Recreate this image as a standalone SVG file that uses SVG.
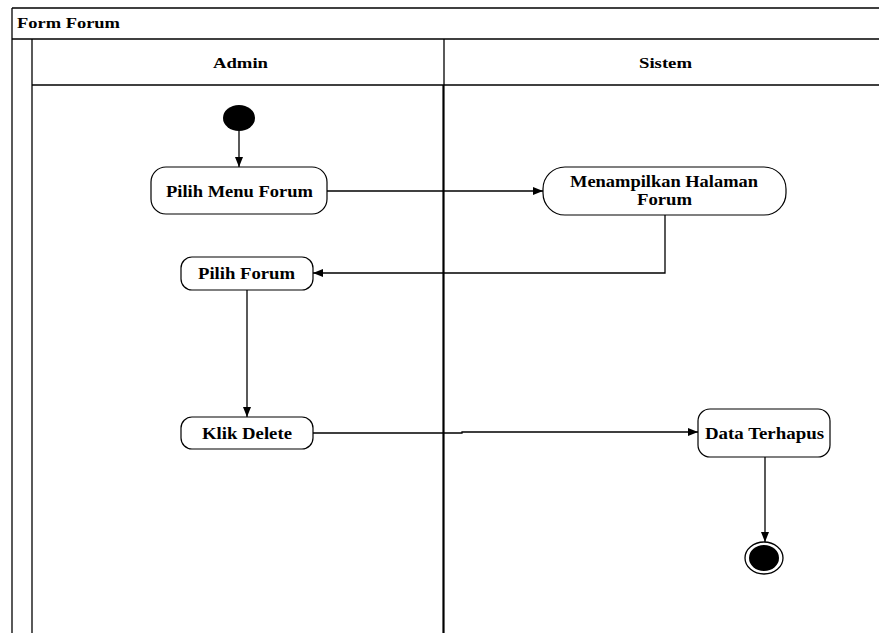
<svg xmlns="http://www.w3.org/2000/svg" width="879" height="633" viewBox="0 0 879 633">
<defs>
<style>
.frame{fill:none;stroke:#000;stroke-width:1.3}
.div{fill:none;stroke:#000;stroke-width:2.2}
.node{fill:#fff;stroke:#000;stroke-width:1.2}
.conn{fill:none;stroke:#000;stroke-width:1.3}
.t{font-family:"Liberation Serif","Times New Roman",serif;font-weight:bold;fill:#000}
.nt{font-size:16.5px}
.ht{font-size:14px}
</style>
<marker id="arr" viewBox="0 0 10 10" refX="10" refY="5" markerWidth="10" markerHeight="10" markerUnits="userSpaceOnUse" orient="auto">
<path d="M0,1 L10,5 L0,9 Z" fill="#000"/>
</marker>
</defs>
<rect width="879" height="633" fill="#fff"/>
<g id="frame">
<line class="frame" x1="12" y1="8" x2="879" y2="8"/>
<line class="frame" x1="12" y1="8" x2="12" y2="633"/>
<line class="frame" x1="12" y1="39" x2="879" y2="39"/>
<line class="frame" x1="32" y1="39" x2="32" y2="633"/>
<line class="frame" x1="32" y1="85" x2="879" y2="85"/>
<line class="frame" x1="444" y1="39" x2="444" y2="85"/>
<line class="div" x1="443.5" y1="85" x2="443.5" y2="633"/>
<text class="t ht" x="17" y="28" textLength="103" lengthAdjust="spacingAndGlyphs">Form Forum</text>
<text class="t ht" x="213" y="68" textLength="55" lengthAdjust="spacingAndGlyphs">Admin</text>
<text class="t ht" x="639" y="68" textLength="53" lengthAdjust="spacingAndGlyphs">Sistem</text>
</g>
<g id="connectors">
<line class="conn" x1="239" y1="131" x2="239" y2="167" marker-end="url(#arr)"/>
<line class="conn" x1="327" y1="191" x2="543" y2="191" marker-end="url(#arr)"/>
<polyline class="conn" points="665,215 665,273 313,273" marker-end="url(#arr)"/>
<line class="conn" x1="247" y1="290" x2="247" y2="417" marker-end="url(#arr)"/>
<polyline class="conn" points="313,433 462,433 462,432 698,432" marker-end="url(#arr)"/>
<line class="conn" x1="765" y1="457" x2="765" y2="542" marker-end="url(#arr)"/>
</g>
<g id="start">
<ellipse cx="239" cy="118" rx="16" ry="13" fill="#000"/>
</g>
<g id="pilih-menu-forum">
<rect class="node" x="151" y="167" width="176" height="47" rx="15"/>
<text class="t nt" x="166" y="197" textLength="147" lengthAdjust="spacingAndGlyphs">Pilih Menu Forum</text>
</g>
<g id="menampilkan-halaman-forum">
<rect class="node" x="543" y="167" width="243" height="48" rx="22"/>
<text class="t nt" x="570" y="187" textLength="188" lengthAdjust="spacingAndGlyphs">Menampilkan Halaman</text>
<text class="t nt" x="637" y="205" textLength="55" lengthAdjust="spacingAndGlyphs">Forum</text>
</g>
<g id="pilih-forum">
<rect class="node" x="181" y="257" width="132" height="33" rx="11"/>
<text class="t nt" x="198" y="279" textLength="97" lengthAdjust="spacingAndGlyphs">Pilih Forum</text>
</g>
<g id="klik-delete">
<rect class="node" x="181" y="417" width="132" height="32" rx="11"/>
<text class="t nt" x="202" y="439" textLength="90" lengthAdjust="spacingAndGlyphs">Klik Delete</text>
</g>
<g id="data-terhapus">
<rect class="node" x="698" y="409" width="132" height="48" rx="12"/>
<text class="t nt" x="705" y="439" textLength="119" lengthAdjust="spacingAndGlyphs">Data Terhapus</text>
</g>
<g id="end">
<ellipse cx="764" cy="558" rx="19" ry="16" fill="#fff" stroke="#000" stroke-width="1.3"/>
<ellipse cx="764" cy="558" rx="15" ry="13" fill="#000"/>
</g>
</svg>
